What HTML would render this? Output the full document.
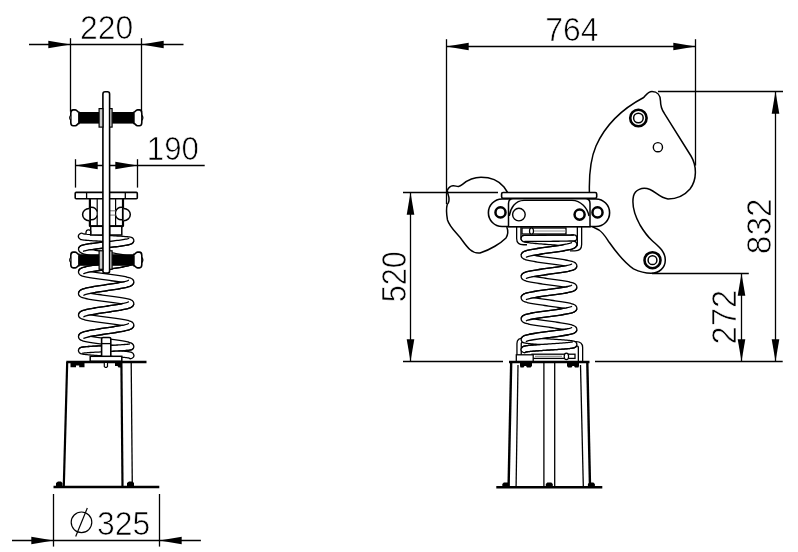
<!DOCTYPE html>
<html><head><meta charset="utf-8"><style>
html,body{margin:0;padding:0;background:#fff;width:798px;height:552px;overflow:hidden}
svg{display:block}
text{font-family:"Liberation Sans",sans-serif;fill:#000}
svg{will-change:transform}
</style></head><body>
<svg width="798" height="552" viewBox="0 0 798 552">
<rect width="798" height="552" fill="#fff"/>
<line x1="70.5" y1="38.2" x2="70.5" y2="111.6" stroke="#000" stroke-width="1.3"/>
<line x1="141.5" y1="38.2" x2="141.5" y2="111.6" stroke="#000" stroke-width="1.3"/>
<line x1="29" y1="44.5" x2="183.5" y2="44.5" stroke="#000" stroke-width="1.3"/>
<polygon points="70.5,44.5 48.3,48.3 48.3,40.7" fill="#000" stroke="none" stroke-width="1"/>
<polygon points="141.5,44.5 163.7,40.7 163.7,48.3" fill="#000" stroke="none" stroke-width="1"/>
<text x="0" y="0" font-size="33.6" text-anchor="middle" transform="translate(106.6 38.6) scale(0.95 1)" stroke="#fff" stroke-width="0.7">220</text>
<line x1="75.5" y1="159.2" x2="75.5" y2="187.6" stroke="#000" stroke-width="1.3"/>
<line x1="137.5" y1="159.2" x2="137.5" y2="187.6" stroke="#000" stroke-width="1.3"/>
<line x1="75.5" y1="165.5" x2="204.7" y2="165.5" stroke="#000" stroke-width="1.3"/>
<polygon points="75.5,165.5 97.7,161.7 97.7,169.3" fill="#000" stroke="none" stroke-width="1"/>
<polygon points="137.5,165.5 115.3,169.3 115.3,161.7" fill="#000" stroke="none" stroke-width="1"/>
<text x="0" y="0" font-size="33.6" text-anchor="middle" transform="translate(172.9 159.6) scale(0.93 1)" stroke="#fff" stroke-width="0.7">190</text>
<path d="M81.55,236.4 L81.63,236.5 L81.85,236.61 L82.23,236.71 L82.75,236.81 L83.42,236.91 L84.23,237.02 L85.18,237.12 L86.25,237.22 L87.44,237.32 L88.76,237.43 L90.17,237.53 L91.69,237.63 L93.3,237.73 L94.98,237.84 L96.74,237.94 L98.55,238.04 L100.41,238.14 L102.3,238.25 L104.22,238.35 L106.15,238.45 L108.08,238.55 L110,238.66 L111.89,238.76 L113.75,238.86 L115.56,238.96 L117.32,239.06 L119,239.17 L120.61,239.27 L122.13,239.37 L123.54,239.47 L124.86,239.58 L126.05,239.68 L127.12,239.78 L128.07,239.88 L128.88,239.99 L129.55,240.09 L130.07,240.19 L130.45,240.29 L130.67,240.4 L130.75,240.5 L130.67,240.72 L130.45,240.93 L130.07,241.15 L129.55,241.36 L128.88,241.57 L128.07,241.79 L127.12,242 L126.05,242.22 L124.86,242.44 L123.54,242.65 L122.13,242.87 L120.61,243.08 L119,243.29 L117.32,243.51 L115.56,243.72 L113.75,243.94 L111.89,244.16 L110,244.37 L108.08,244.59 L106.15,244.8 L104.22,245.01 L102.3,245.23 L100.41,245.44 L98.55,245.66 L96.74,245.88 L94.98,246.09 L93.3,246.31 L91.69,246.52 L90.17,246.73 L88.76,246.95 L87.44,247.16 L86.25,247.38 L85.18,247.59 L84.23,247.81 L83.42,248.03 L82.75,248.24 L82.23,248.45 L81.85,248.67 L81.63,248.88 L81.55,249.1 L81.63,249.4 L81.85,249.69 L82.23,249.99 L82.75,250.29 L83.42,250.59 L84.23,250.88 L85.18,251.18 L86.25,251.48 L87.44,251.78 L88.76,252.07 L90.17,252.37 L91.69,252.67 L93.3,252.97 L94.98,253.26 L96.74,253.56 L98.55,253.86 L100.41,254.16 L102.3,254.45 L104.22,254.75 L106.15,255.05 L108.08,255.35 L110,255.65 L111.89,255.94 L113.75,256.24 L115.56,256.54 L117.32,256.83 L119,257.13 L120.61,257.43 L122.13,257.73 L123.54,258.02 L124.86,258.32 L126.05,258.62 L127.12,258.92 L128.07,259.21 L128.88,259.51 L129.55,259.81 L130.07,260.11 L130.45,260.4 L130.67,260.7 L130.75,261 L130.67,261.27 L130.45,261.55 L130.07,261.82 L129.55,262.09 L128.88,262.36 L128.07,262.63 L127.12,262.91 L126.05,263.18 L124.86,263.45 L123.54,263.73 L122.13,264 L120.61,264.27 L119,264.54 L117.32,264.81 L115.56,265.09 L113.75,265.36 L111.89,265.63 L110,265.9 L108.08,266.18 L106.15,266.45 L104.22,266.72 L102.3,267 L100.41,267.27 L98.55,267.54 L96.74,267.81 L94.98,268.08 L93.3,268.36 L91.69,268.63 L90.17,268.9 L88.76,269.17 L87.44,269.45 L86.25,269.72 L85.18,269.99 L84.23,270.26 L83.42,270.54 L82.75,270.81 L82.23,271.08 L81.85,271.35 L81.63,271.63 L81.55,271.9 L81.63,272.15 L81.85,272.4 L82.23,272.66 L82.75,272.91 L83.42,273.16 L84.23,273.41 L85.18,273.67 L86.25,273.92 L87.44,274.17 L88.76,274.42 L90.17,274.68 L91.69,274.93 L93.3,275.18 L94.98,275.44 L96.74,275.69 L98.55,275.94 L100.41,276.19 L102.3,276.44 L104.22,276.7 L106.15,276.95 L108.08,277.2 L110,277.45 L111.89,277.71 L113.75,277.96 L115.56,278.21 L117.32,278.46 L119,278.72 L120.61,278.97 L122.13,279.22 L123.54,279.48 L124.86,279.73 L126.05,279.98 L127.12,280.23 L128.07,280.49 L128.88,280.74 L129.55,280.99 L130.07,281.24 L130.45,281.5 L130.67,281.75 L130.75,282 L130.67,282.29 L130.45,282.57 L130.07,282.86 L129.55,283.15 L128.88,283.44 L128.07,283.73 L127.12,284.01 L126.05,284.3 L124.86,284.59 L123.54,284.88 L122.13,285.16 L120.61,285.45 L119,285.74 L117.32,286.02 L115.56,286.31 L113.75,286.6 L111.89,286.89 L110,287.18 L108.08,287.46 L106.15,287.75 L104.22,288.04 L102.3,288.32 L100.41,288.61 L98.55,288.9 L96.74,289.19 L94.98,289.48 L93.3,289.76 L91.69,290.05 L90.17,290.34 L88.76,290.62 L87.44,290.91 L86.25,291.2 L85.18,291.49 L84.23,291.77 L83.42,292.06 L82.75,292.35 L82.23,292.64 L81.85,292.93 L81.63,293.21 L81.55,293.5 L81.63,293.75 L81.85,294 L82.23,294.26 L82.75,294.51 L83.42,294.76 L84.23,295.01 L85.18,295.27 L86.25,295.52 L87.44,295.77 L88.76,296.02 L90.17,296.28 L91.69,296.53 L93.3,296.78 L94.98,297.04 L96.74,297.29 L98.55,297.54 L100.41,297.79 L102.3,298.05 L104.22,298.3 L106.15,298.55 L108.08,298.8 L110,299.06 L111.89,299.31 L113.75,299.56 L115.56,299.81 L117.32,300.06 L119,300.32 L120.61,300.57 L122.13,300.82 L123.54,301.08 L124.86,301.33 L126.05,301.58 L127.12,301.83 L128.07,302.09 L128.88,302.34 L129.55,302.59 L130.07,302.84 L130.45,303.1 L130.67,303.35 L130.75,303.6 L130.67,303.89 L130.45,304.17 L130.07,304.46 L129.55,304.74 L128.88,305.03 L128.07,305.31 L127.12,305.6 L126.05,305.88 L124.86,306.17 L123.54,306.45 L122.13,306.74 L120.61,307.02 L119,307.31 L117.32,307.59 L115.56,307.88 L113.75,308.16 L111.89,308.44 L110,308.73 L108.08,309.01 L106.15,309.3 L104.22,309.59 L102.3,309.87 L100.41,310.16 L98.55,310.44 L96.74,310.73 L94.98,311.01 L93.3,311.3 L91.69,311.58 L90.17,311.87 L88.76,312.15 L87.44,312.44 L86.25,312.72 L85.18,313 L84.23,313.29 L83.42,313.57 L82.75,313.86 L82.23,314.14 L81.85,314.43 L81.63,314.71 L81.55,315 L81.63,315.25 L81.85,315.51 L82.23,315.76 L82.75,316.02 L83.42,316.27 L84.23,316.53 L85.18,316.79 L86.25,317.04 L87.44,317.3 L88.76,317.55 L90.17,317.81 L91.69,318.06 L93.3,318.31 L94.98,318.57 L96.74,318.82 L98.55,319.08 L100.41,319.33 L102.3,319.59 L104.22,319.84 L106.15,320.1 L108.08,320.36 L110,320.61 L111.89,320.87 L113.75,321.12 L115.56,321.38 L117.32,321.63 L119,321.88 L120.61,322.14 L122.13,322.39 L123.54,322.65 L124.86,322.9 L126.05,323.16 L127.12,323.41 L128.07,323.67 L128.88,323.93 L129.55,324.18 L130.07,324.44 L130.45,324.69 L130.67,324.94 L130.75,325.2 L130.67,325.49 L130.45,325.77 L130.07,326.06 L129.55,326.34 L128.88,326.62 L128.07,326.91 L127.12,327.19 L126.05,327.48 L124.86,327.76 L123.54,328.05 L122.13,328.33 L120.61,328.62 L119,328.9 L117.32,329.19 L115.56,329.48 L113.75,329.76 L111.89,330.05 L110,330.33 L108.08,330.62 L106.15,330.9 L104.22,331.19 L102.3,331.47 L100.41,331.75 L98.55,332.04 L96.74,332.32 L94.98,332.61 L93.3,332.9 L91.69,333.18 L90.17,333.47 L88.76,333.75 L87.44,334.04 L86.25,334.32 L85.18,334.61 L84.23,334.89 L83.42,335.18 L82.75,335.46 L82.23,335.75 L81.85,336.03 L81.63,336.31 L81.55,336.6 L81.63,336.85 L81.85,337.11 L82.23,337.36 L82.75,337.61 L83.42,337.86 L84.23,338.12 L85.18,338.37 L86.25,338.62 L87.44,338.87 L88.76,339.12 L90.17,339.38 L91.69,339.63 L93.3,339.88 L94.98,340.13 L96.74,340.39 L98.55,340.64 L100.41,340.89 L102.3,341.14 L104.22,341.4 L106.15,341.65 L108.08,341.9 L110,342.16 L111.89,342.41 L113.75,342.66 L115.56,342.91 L117.32,343.17 L119,343.42 L120.61,343.67 L122.13,343.92 L123.54,344.18 L124.86,344.43 L126.05,344.68 L127.12,344.93 L128.07,345.19 L128.88,345.44 L129.55,345.69 L130.07,345.94 L130.45,346.19 L130.67,346.45 L130.75,346.7 L130.67,346.8 L130.45,346.89 L130.07,346.99 L129.55,347.08 L128.88,347.18 L128.07,347.27 L127.12,347.37 L126.05,347.46 L124.86,347.56 L123.54,347.65 L122.13,347.75 L120.61,347.84 L119,347.94 L117.32,348.03 L115.56,348.12 L113.75,348.22 L111.89,348.31 L110,348.41 L108.08,348.5 L106.15,348.6 L104.22,348.69 L102.3,348.79 L100.41,348.88 L98.55,348.98 L96.74,349.07 L94.98,349.17 L93.3,349.26 L91.69,349.36 L90.17,349.45 L88.76,349.55 L87.44,349.64 L86.25,349.74 L85.18,349.83 L84.23,349.93 L83.42,350.02 L82.75,350.12 L82.23,350.21 L81.85,350.31 L81.63,350.4 L81.55,350.5 L81.63,350.62 L81.85,350.75 L82.23,350.88 L82.75,351 L83.42,351.12 L84.23,351.25 L85.18,351.38 L86.25,351.5 L87.44,351.62 L88.76,351.75 L90.17,351.88 L91.69,352 L93.3,352.12 L94.98,352.25 L96.74,352.38 L98.55,352.5 L100.41,352.62 L102.3,352.75 L104.22,352.88 L106.15,353 L108.08,353.12 L110,353.25 L111.89,353.38 L113.75,353.5 L115.56,353.62 L117.32,353.75 L119,353.88 L120.61,354 L122.13,354.12 L123.54,354.25 L124.86,354.38 L126.05,354.5 L127.12,354.62 L128.07,354.75 L128.88,354.88 L129.55,355 L130.07,355.12 L130.45,355.25 L130.67,355.38 L130.75,355.5" fill="none" stroke="#000" stroke-width="7.4" stroke-linecap="round" stroke-linejoin="round"/>
<path d="M81.55,236.4 L81.63,236.5 L81.85,236.61 L82.23,236.71 L82.75,236.81 L83.42,236.91 L84.23,237.02 L85.18,237.12 L86.25,237.22 L87.44,237.32 L88.76,237.43 L90.17,237.53 L91.69,237.63 L93.3,237.73 L94.98,237.84 L96.74,237.94 L98.55,238.04 L100.41,238.14 L102.3,238.25 L104.22,238.35 L106.15,238.45 L108.08,238.55 L110,238.66 L111.89,238.76 L113.75,238.86 L115.56,238.96 L117.32,239.06 L119,239.17 L120.61,239.27 L122.13,239.37 L123.54,239.47 L124.86,239.58 L126.05,239.68 L127.12,239.78 L128.07,239.88 L128.88,239.99 L129.55,240.09 L130.07,240.19 L130.45,240.29 L130.67,240.4 L130.75,240.5 L130.67,240.72 L130.45,240.93 L130.07,241.15 L129.55,241.36 L128.88,241.57 L128.07,241.79 L127.12,242 L126.05,242.22 L124.86,242.44 L123.54,242.65 L122.13,242.87 L120.61,243.08 L119,243.29 L117.32,243.51 L115.56,243.72 L113.75,243.94 L111.89,244.16 L110,244.37 L108.08,244.59 L106.15,244.8 L104.22,245.01 L102.3,245.23 L100.41,245.44 L98.55,245.66 L96.74,245.88 L94.98,246.09 L93.3,246.31 L91.69,246.52 L90.17,246.73 L88.76,246.95 L87.44,247.16 L86.25,247.38 L85.18,247.59 L84.23,247.81 L83.42,248.03 L82.75,248.24 L82.23,248.45 L81.85,248.67 L81.63,248.88 L81.55,249.1 L81.63,249.4 L81.85,249.69 L82.23,249.99 L82.75,250.29 L83.42,250.59 L84.23,250.88 L85.18,251.18 L86.25,251.48 L87.44,251.78 L88.76,252.07 L90.17,252.37 L91.69,252.67 L93.3,252.97 L94.98,253.26 L96.74,253.56 L98.55,253.86 L100.41,254.16 L102.3,254.45 L104.22,254.75 L106.15,255.05 L108.08,255.35 L110,255.65 L111.89,255.94 L113.75,256.24 L115.56,256.54 L117.32,256.83 L119,257.13 L120.61,257.43 L122.13,257.73 L123.54,258.02 L124.86,258.32 L126.05,258.62 L127.12,258.92 L128.07,259.21 L128.88,259.51 L129.55,259.81 L130.07,260.11 L130.45,260.4 L130.67,260.7 L130.75,261 L130.67,261.27 L130.45,261.55 L130.07,261.82 L129.55,262.09 L128.88,262.36 L128.07,262.63 L127.12,262.91 L126.05,263.18 L124.86,263.45 L123.54,263.73 L122.13,264 L120.61,264.27 L119,264.54 L117.32,264.81 L115.56,265.09 L113.75,265.36 L111.89,265.63 L110,265.9 L108.08,266.18 L106.15,266.45 L104.22,266.72 L102.3,267 L100.41,267.27 L98.55,267.54 L96.74,267.81 L94.98,268.08 L93.3,268.36 L91.69,268.63 L90.17,268.9 L88.76,269.17 L87.44,269.45 L86.25,269.72 L85.18,269.99 L84.23,270.26 L83.42,270.54 L82.75,270.81 L82.23,271.08 L81.85,271.35 L81.63,271.63 L81.55,271.9 L81.63,272.15 L81.85,272.4 L82.23,272.66 L82.75,272.91 L83.42,273.16 L84.23,273.41 L85.18,273.67 L86.25,273.92 L87.44,274.17 L88.76,274.42 L90.17,274.68 L91.69,274.93 L93.3,275.18 L94.98,275.44 L96.74,275.69 L98.55,275.94 L100.41,276.19 L102.3,276.44 L104.22,276.7 L106.15,276.95 L108.08,277.2 L110,277.45 L111.89,277.71 L113.75,277.96 L115.56,278.21 L117.32,278.46 L119,278.72 L120.61,278.97 L122.13,279.22 L123.54,279.48 L124.86,279.73 L126.05,279.98 L127.12,280.23 L128.07,280.49 L128.88,280.74 L129.55,280.99 L130.07,281.24 L130.45,281.5 L130.67,281.75 L130.75,282 L130.67,282.29 L130.45,282.57 L130.07,282.86 L129.55,283.15 L128.88,283.44 L128.07,283.73 L127.12,284.01 L126.05,284.3 L124.86,284.59 L123.54,284.88 L122.13,285.16 L120.61,285.45 L119,285.74 L117.32,286.02 L115.56,286.31 L113.75,286.6 L111.89,286.89 L110,287.18 L108.08,287.46 L106.15,287.75 L104.22,288.04 L102.3,288.32 L100.41,288.61 L98.55,288.9 L96.74,289.19 L94.98,289.48 L93.3,289.76 L91.69,290.05 L90.17,290.34 L88.76,290.62 L87.44,290.91 L86.25,291.2 L85.18,291.49 L84.23,291.77 L83.42,292.06 L82.75,292.35 L82.23,292.64 L81.85,292.93 L81.63,293.21 L81.55,293.5 L81.63,293.75 L81.85,294 L82.23,294.26 L82.75,294.51 L83.42,294.76 L84.23,295.01 L85.18,295.27 L86.25,295.52 L87.44,295.77 L88.76,296.02 L90.17,296.28 L91.69,296.53 L93.3,296.78 L94.98,297.04 L96.74,297.29 L98.55,297.54 L100.41,297.79 L102.3,298.05 L104.22,298.3 L106.15,298.55 L108.08,298.8 L110,299.06 L111.89,299.31 L113.75,299.56 L115.56,299.81 L117.32,300.06 L119,300.32 L120.61,300.57 L122.13,300.82 L123.54,301.08 L124.86,301.33 L126.05,301.58 L127.12,301.83 L128.07,302.09 L128.88,302.34 L129.55,302.59 L130.07,302.84 L130.45,303.1 L130.67,303.35 L130.75,303.6 L130.67,303.89 L130.45,304.17 L130.07,304.46 L129.55,304.74 L128.88,305.03 L128.07,305.31 L127.12,305.6 L126.05,305.88 L124.86,306.17 L123.54,306.45 L122.13,306.74 L120.61,307.02 L119,307.31 L117.32,307.59 L115.56,307.88 L113.75,308.16 L111.89,308.44 L110,308.73 L108.08,309.01 L106.15,309.3 L104.22,309.59 L102.3,309.87 L100.41,310.16 L98.55,310.44 L96.74,310.73 L94.98,311.01 L93.3,311.3 L91.69,311.58 L90.17,311.87 L88.76,312.15 L87.44,312.44 L86.25,312.72 L85.18,313 L84.23,313.29 L83.42,313.57 L82.75,313.86 L82.23,314.14 L81.85,314.43 L81.63,314.71 L81.55,315 L81.63,315.25 L81.85,315.51 L82.23,315.76 L82.75,316.02 L83.42,316.27 L84.23,316.53 L85.18,316.79 L86.25,317.04 L87.44,317.3 L88.76,317.55 L90.17,317.81 L91.69,318.06 L93.3,318.31 L94.98,318.57 L96.74,318.82 L98.55,319.08 L100.41,319.33 L102.3,319.59 L104.22,319.84 L106.15,320.1 L108.08,320.36 L110,320.61 L111.89,320.87 L113.75,321.12 L115.56,321.38 L117.32,321.63 L119,321.88 L120.61,322.14 L122.13,322.39 L123.54,322.65 L124.86,322.9 L126.05,323.16 L127.12,323.41 L128.07,323.67 L128.88,323.93 L129.55,324.18 L130.07,324.44 L130.45,324.69 L130.67,324.94 L130.75,325.2 L130.67,325.49 L130.45,325.77 L130.07,326.06 L129.55,326.34 L128.88,326.62 L128.07,326.91 L127.12,327.19 L126.05,327.48 L124.86,327.76 L123.54,328.05 L122.13,328.33 L120.61,328.62 L119,328.9 L117.32,329.19 L115.56,329.48 L113.75,329.76 L111.89,330.05 L110,330.33 L108.08,330.62 L106.15,330.9 L104.22,331.19 L102.3,331.47 L100.41,331.75 L98.55,332.04 L96.74,332.32 L94.98,332.61 L93.3,332.9 L91.69,333.18 L90.17,333.47 L88.76,333.75 L87.44,334.04 L86.25,334.32 L85.18,334.61 L84.23,334.89 L83.42,335.18 L82.75,335.46 L82.23,335.75 L81.85,336.03 L81.63,336.31 L81.55,336.6 L81.63,336.85 L81.85,337.11 L82.23,337.36 L82.75,337.61 L83.42,337.86 L84.23,338.12 L85.18,338.37 L86.25,338.62 L87.44,338.87 L88.76,339.12 L90.17,339.38 L91.69,339.63 L93.3,339.88 L94.98,340.13 L96.74,340.39 L98.55,340.64 L100.41,340.89 L102.3,341.14 L104.22,341.4 L106.15,341.65 L108.08,341.9 L110,342.16 L111.89,342.41 L113.75,342.66 L115.56,342.91 L117.32,343.17 L119,343.42 L120.61,343.67 L122.13,343.92 L123.54,344.18 L124.86,344.43 L126.05,344.68 L127.12,344.93 L128.07,345.19 L128.88,345.44 L129.55,345.69 L130.07,345.94 L130.45,346.19 L130.67,346.45 L130.75,346.7 L130.67,346.8 L130.45,346.89 L130.07,346.99 L129.55,347.08 L128.88,347.18 L128.07,347.27 L127.12,347.37 L126.05,347.46 L124.86,347.56 L123.54,347.65 L122.13,347.75 L120.61,347.84 L119,347.94 L117.32,348.03 L115.56,348.12 L113.75,348.22 L111.89,348.31 L110,348.41 L108.08,348.5 L106.15,348.6 L104.22,348.69 L102.3,348.79 L100.41,348.88 L98.55,348.98 L96.74,349.07 L94.98,349.17 L93.3,349.26 L91.69,349.36 L90.17,349.45 L88.76,349.55 L87.44,349.64 L86.25,349.74 L85.18,349.83 L84.23,349.93 L83.42,350.02 L82.75,350.12 L82.23,350.21 L81.85,350.31 L81.63,350.4 L81.55,350.5 L81.63,350.62 L81.85,350.75 L82.23,350.88 L82.75,351 L83.42,351.12 L84.23,351.25 L85.18,351.38 L86.25,351.5 L87.44,351.62 L88.76,351.75 L90.17,351.88 L91.69,352 L93.3,352.12 L94.98,352.25 L96.74,352.38 L98.55,352.5 L100.41,352.62 L102.3,352.75 L104.22,352.88 L106.15,353 L108.08,353.12 L110,353.25 L111.89,353.38 L113.75,353.5 L115.56,353.62 L117.32,353.75 L119,353.88 L120.61,354 L122.13,354.12 L123.54,354.25 L124.86,354.38 L126.05,354.5 L127.12,354.62 L128.07,354.75 L128.88,354.88 L129.55,355 L130.07,355.12 L130.45,355.25 L130.67,355.38 L130.75,355.5" fill="none" stroke="#fff" stroke-width="4.800000000000001" stroke-linecap="round" stroke-linejoin="round"/>
<path d="M128.76,238.39 L128.51,238.49 L128.03,238.65 L127.34,238.83 L126.49,239.02 L125.48,239.22 L124.34,239.43 L123.07,239.64 L121.68,239.85 L120.19,240.06 L118.61,240.27 L116.94,240.48 L115.2,240.7 L113.4,240.91 L111.55,241.12 L109.66,241.34 L107.74,241.55 L105.81,241.77 L103.88,241.98 L101.96,242.2 L100.06,242.41 L98.19,242.63 L96.37,242.85 L94.6,243.06 L92.9,243.28 L91.27,243.5 L89.73,243.72 L88.28,243.94 L86.93,244.16 L85.68,244.38 L84.54,244.61 L83.5,244.85 L82.57,245.1 L81.72,245.37 L80.92,245.7 L80.08,246.19 L79.13,247.13 L78.67,248.09" fill="none" stroke="#000" stroke-width="1.3" stroke-linecap="round"/>
<path d="M133.63,241.51 L133.17,242.47 L132.22,243.41 L131.38,243.9 L130.58,244.23 L129.73,244.5 L128.8,244.75 L127.76,244.99 L126.62,245.22 L125.37,245.44 L124.02,245.66 L122.57,245.88 L121.03,246.1 L119.4,246.32 L117.7,246.54 L115.93,246.75 L114.11,246.97 L112.24,247.19 L110.34,247.4 L108.42,247.62 L106.49,247.83 L104.56,248.05 L102.64,248.26 L100.75,248.48 L98.9,248.69 L97.1,248.9 L95.36,249.12 L93.69,249.33 L92.11,249.54 L90.62,249.75 L89.23,249.96 L87.96,250.17 L86.82,250.38 L85.81,250.58 L84.96,250.77 L84.27,250.95 L83.79,251.11 L83.54,251.21" fill="none" stroke="#000" stroke-width="1.3" stroke-linecap="round"/>
<path d="M128.49,259.21 L128.28,259.32 L127.82,259.5 L127.16,259.72 L126.33,259.96 L125.34,260.21 L124.21,260.47 L122.95,260.73 L121.57,261 L120.09,261.27 L118.51,261.53 L116.84,261.8 L115.1,262.07 L113.3,262.34 L111.45,262.61 L109.57,262.89 L107.65,263.16 L105.72,263.43 L103.79,263.7 L101.87,263.98 L99.97,264.25 L98.1,264.52 L96.28,264.8 L94.5,265.07 L92.8,265.35 L91.17,265.63 L89.62,265.9 L88.16,266.18 L86.8,266.47 L85.54,266.75 L84.38,267.05 L83.33,267.35 L82.37,267.68 L81.49,268.04 L80.65,268.47 L79.81,269.09 L78.96,270.15 L78.61,271.08" fill="none" stroke="#000" stroke-width="1.3" stroke-linecap="round"/>
<path d="M133.69,261.82 L133.34,262.75 L132.49,263.81 L131.65,264.43 L130.81,264.86 L129.93,265.22 L128.97,265.55 L127.92,265.85 L126.76,266.15 L125.5,266.43 L124.14,266.72 L122.68,267 L121.13,267.27 L119.5,267.55 L117.8,267.83 L116.02,268.1 L114.2,268.38 L112.33,268.65 L110.43,268.92 L108.51,269.2 L106.58,269.47 L104.65,269.74 L102.73,270.01 L100.85,270.29 L99,270.56 L97.2,270.83 L95.46,271.1 L93.79,271.37 L92.21,271.63 L90.73,271.9 L89.35,272.17 L88.09,272.43 L86.96,272.69 L85.97,272.94 L85.14,273.18 L84.48,273.4 L84.02,273.58 L83.81,273.69" fill="none" stroke="#000" stroke-width="1.3" stroke-linecap="round"/>
<path d="M128.43,280.29 L128.22,280.4 L127.77,280.6 L127.12,280.83 L126.29,281.08 L125.3,281.34 L124.17,281.61 L122.92,281.89 L121.54,282.17 L120.06,282.45 L118.48,282.73 L116.82,283.02 L115.08,283.3 L113.28,283.59 L111.43,283.87 L109.54,284.16 L107.63,284.45 L105.7,284.73 L103.77,285.02 L101.85,285.31 L99.95,285.6 L98.08,285.89 L96.25,286.18 L94.48,286.47 L92.77,286.76 L91.14,287.05 L89.59,287.34 L88.13,287.64 L86.76,287.94 L85.5,288.24 L84.34,288.55 L83.28,288.88 L82.32,289.22 L81.43,289.6 L80.59,290.07 L79.75,290.72 L78.93,291.79 L78.6,292.72" fill="none" stroke="#000" stroke-width="1.3" stroke-linecap="round"/>
<path d="M133.7,282.78 L133.37,283.71 L132.55,284.78 L131.71,285.43 L130.87,285.9 L129.98,286.28 L129.02,286.62 L127.96,286.95 L126.8,287.26 L125.54,287.56 L124.17,287.86 L122.71,288.16 L121.16,288.45 L119.53,288.74 L117.82,289.03 L116.05,289.32 L114.22,289.61 L112.35,289.9 L110.45,290.19 L108.53,290.48 L106.6,290.77 L104.67,291.05 L102.76,291.34 L100.87,291.63 L99.02,291.91 L97.22,292.2 L95.48,292.48 L93.82,292.77 L92.24,293.05 L90.76,293.33 L89.38,293.61 L88.13,293.89 L87,294.16 L86.01,294.42 L85.18,294.67 L84.53,294.9 L84.08,295.1 L83.87,295.21" fill="none" stroke="#000" stroke-width="1.3" stroke-linecap="round"/>
<path d="M128.44,301.88 L128.23,301.99 L127.78,302.18 L127.13,302.41 L126.3,302.66 L125.31,302.92 L124.18,303.19 L122.92,303.46 L121.55,303.74 L120.06,304.02 L118.48,304.3 L116.82,304.58 L115.08,304.86 L113.28,305.15 L111.43,305.43 L109.55,305.71 L107.63,306 L105.7,306.28 L103.77,306.57 L101.85,306.85 L99.95,307.14 L98.08,307.43 L96.25,307.71 L94.48,308 L92.78,308.29 L91.14,308.58 L89.59,308.87 L88.13,309.16 L86.77,309.46 L85.51,309.76 L84.35,310.07 L83.29,310.39 L82.32,310.73 L81.44,311.11 L80.6,311.57 L79.76,312.21 L78.93,313.28 L78.6,314.22" fill="none" stroke="#000" stroke-width="1.3" stroke-linecap="round"/>
<path d="M133.7,304.38 L133.37,305.32 L132.54,306.39 L131.7,307.03 L130.86,307.49 L129.98,307.87 L129.01,308.21 L127.95,308.53 L126.79,308.84 L125.53,309.14 L124.17,309.44 L122.71,309.73 L121.16,310.02 L119.52,310.31 L117.82,310.6 L116.05,310.89 L114.22,311.17 L112.35,311.46 L110.45,311.75 L108.53,312.03 L106.6,312.32 L104.67,312.6 L102.75,312.89 L100.87,313.17 L99.02,313.45 L97.22,313.74 L95.48,314.02 L93.82,314.3 L92.24,314.58 L90.75,314.86 L89.38,315.14 L88.12,315.41 L86.99,315.68 L86,315.94 L85.17,316.19 L84.52,316.42 L84.07,316.61 L83.86,316.72" fill="none" stroke="#000" stroke-width="1.3" stroke-linecap="round"/>
<path d="M128.44,323.48 L128.23,323.59 L127.78,323.78 L127.13,324.01 L126.3,324.26 L125.31,324.52 L124.18,324.79 L122.92,325.06 L121.55,325.34 L120.06,325.62 L118.48,325.9 L116.82,326.18 L115.08,326.46 L113.28,326.75 L111.43,327.03 L109.55,327.31 L107.63,327.6 L105.7,327.88 L103.77,328.17 L101.85,328.45 L99.95,328.74 L98.08,329.03 L96.25,329.31 L94.48,329.6 L92.78,329.89 L91.14,330.18 L89.59,330.47 L88.13,330.76 L86.77,331.06 L85.51,331.36 L84.35,331.67 L83.29,331.99 L82.32,332.33 L81.44,332.71 L80.6,333.17 L79.76,333.81 L78.93,334.88 L78.6,335.82" fill="none" stroke="#000" stroke-width="1.3" stroke-linecap="round"/>
<path d="M133.7,325.98 L133.37,326.92 L132.54,327.99 L131.7,328.63 L130.86,329.09 L129.98,329.47 L129.01,329.81 L127.95,330.13 L126.79,330.44 L125.53,330.74 L124.17,331.04 L122.71,331.33 L121.16,331.62 L119.52,331.91 L117.82,332.2 L116.05,332.49 L114.22,332.77 L112.35,333.06 L110.45,333.35 L108.53,333.63 L106.6,333.92 L104.67,334.2 L102.75,334.49 L100.87,334.77 L99.02,335.05 L97.22,335.34 L95.48,335.62 L93.82,335.9 L92.24,336.18 L90.75,336.46 L89.38,336.74 L88.12,337.01 L86.99,337.28 L86,337.54 L85.17,337.79 L84.52,338.02 L84.07,338.21 L83.86,338.32" fill="none" stroke="#000" stroke-width="1.3" stroke-linecap="round"/>
<path d="M129.53,343.98 L129.44,344 L129.07,344.07 L128.49,344.15 L127.74,344.24 L126.84,344.33 L125.8,344.42 L124.63,344.51 L123.33,344.61 L121.93,344.7 L120.42,344.8 L118.83,344.89 L117.15,344.98 L115.4,345.08 L113.59,345.17 L111.74,345.27 L109.85,345.36 L107.93,345.46 L106,345.55 L104.07,345.65 L102.15,345.74 L100.25,345.84 L98.39,345.93 L96.57,346.03 L94.81,346.12 L93.12,346.22 L91.51,346.32 L89.98,346.41 L88.54,346.51 L87.21,346.6 L85.99,346.7 L84.89,346.8 L83.9,346.9 L83.03,347 L82.27,347.11 L81.6,347.23 L80.94,347.4 L80,347.82 L79.17,348.6" fill="none" stroke="#000" stroke-width="1.3" stroke-linecap="round"/>
<path d="M133.13,348.6 L132.3,349.38 L131.36,349.8 L130.7,349.97 L130.03,350.09 L129.27,350.2 L128.4,350.3 L127.41,350.4 L126.31,350.5 L125.09,350.6 L123.76,350.69 L122.32,350.79 L120.79,350.88 L119.18,350.98 L117.49,351.08 L115.73,351.17 L113.91,351.27 L112.05,351.36 L110.15,351.46 L108.23,351.55 L106.3,351.65 L104.37,351.74 L102.45,351.84 L100.56,351.93 L98.71,352.03 L96.9,352.12 L95.15,352.22 L93.47,352.31 L91.88,352.4 L90.37,352.5 L88.97,352.59 L87.67,352.69 L86.5,352.78 L85.46,352.87 L84.56,352.96 L83.81,353.05 L83.23,353.13 L82.86,353.2 L82.77,353.22" fill="none" stroke="#000" stroke-width="1.3" stroke-linecap="round"/>
<rect x="75.2" y="192.4" width="62.1" height="6.4" rx="1" fill="#fff" stroke="#000" stroke-width="1.6"/>
<line x1="86.6" y1="192.4" x2="86.6" y2="198.8" stroke="#000" stroke-width="1.3"/>
<line x1="125.3" y1="192.4" x2="125.3" y2="198.8" stroke="#000" stroke-width="1.3"/>
<rect x="89.9" y="198.8" width="33.1" height="27.5" rx="0" fill="#fff" stroke="#000" stroke-width="1.4"/>
<line x1="89.9" y1="198.8" x2="89.9" y2="226.3" stroke="#000" stroke-width="2.2"/>
<line x1="123" y1="198.8" x2="123" y2="226.3" stroke="#000" stroke-width="2.2"/>
<line x1="89.9" y1="226.3" x2="123" y2="226.3" stroke="#000" stroke-width="2.0"/>
<line x1="97.2" y1="198.8" x2="97.2" y2="226.3" stroke="#000" stroke-width="1.2"/>
<line x1="115.6" y1="198.8" x2="115.6" y2="226.3" stroke="#000" stroke-width="1.2"/>
<path d="M90.7,207.3 A6.3,6.3 0 0,1 97.2,211.5" fill="none" stroke="#000" stroke-width="1.3" />
<path d="M97.2,215.5 A6.3,6.3 0 0,1 90.7,219.7" fill="none" stroke="#000" stroke-width="1.3" />
<path d="M122.2,207.3 A6.3,6.3 0 0,0 115.6,211.5" fill="none" stroke="#000" stroke-width="1.3" />
<path d="M115.6,215.5 A6.3,6.3 0 0,0 122.2,219.7" fill="none" stroke="#000" stroke-width="1.3" />
<line x1="109.6" y1="210.8" x2="115.6" y2="210.8" stroke="#777" stroke-width="1.0"/>
<line x1="109.6" y1="215.1" x2="115.6" y2="215.1" stroke="#777" stroke-width="1.0"/>
<path d="M89.2,208.4 A6.6,6.15 0 0,0 89.2,220.7" fill="#fff" stroke="#000" stroke-width="1.5" />
<path d="M123.7,208.4 A6.6,6.15 0 0,1 123.7,220.7" fill="#fff" stroke="#000" stroke-width="1.5" />
<rect x="90.7" y="226.3" width="12" height="8.7" rx="0" fill="#fff" stroke="#000" stroke-width="1.5"/>
<rect x="109.6" y="226.3" width="12.2" height="8.7" rx="0" fill="#fff" stroke="#000" stroke-width="1.5"/>
<path d="M86,234 L86,232 A2.6,2.6 0 0,1 90.7,231 L90.7,234" fill="#fff" stroke="#000" stroke-width="1.3" />
<rect x="102.9" y="91.8" width="6.7" height="181.3" rx="2.2" fill="#fff" stroke="#000" stroke-width="1.6"/>
<rect x="79" y="112" width="20.1" height="11.6" fill="#000"/>
<rect x="112.1" y="112" width="22.1" height="11.6" fill="#000"/>
<rect x="99.1" y="108.6" width="3.8" height="18.5" rx="0" fill="#ccc" stroke="#000" stroke-width="1.2"/>
<rect x="109.6" y="108.6" width="2.5" height="18.5" rx="0" fill="#ccc" stroke="#000" stroke-width="1.2"/>
<path d="M78.9,112.2 C77.7,112.2 77.1,109.9 75.3,109.9 L73.2,109.9 Q70.8,109.9 70.8,113.2 L70.8,122.4 Q70.8,125.7 73.2,125.7 L75.3,125.7 C77.1,125.7 77.7,123.4 78.9,123.4 Z" fill="#fff" stroke="#000" stroke-width="1.6" />
<path d="M70.8,115.2 Q68.6,117.8 70.8,120.4" fill="#888" stroke="#000" stroke-width="1.2" />
<path d="M133.9,112.2 C135.1,112.2 135.7,109.9 137.5,109.9 L139.4,109.9 Q141.8,109.9 141.8,113.2 L141.8,122.4 Q141.8,125.7 139.4,125.7 L137.5,125.7 C135.7,125.7 135.1,123.4 133.9,123.4 Z" fill="#fff" stroke="#000" stroke-width="1.6" />
<path d="M141.8,115.2 Q144,117.8 141.8,120.4" fill="#888" stroke="#000" stroke-width="1.2" />
<rect x="79" y="254.2" width="20.1" height="11.6" fill="#000"/>
<rect x="112.1" y="254.2" width="22.1" height="11.6" fill="#000"/>
<rect x="99.1" y="250.8" width="3.8" height="18.5" rx="0" fill="#ccc" stroke="#000" stroke-width="1.2"/>
<rect x="109.6" y="250.8" width="2.5" height="18.5" rx="0" fill="#ccc" stroke="#000" stroke-width="1.2"/>
<path d="M78.9,254.4 C77.7,254.4 77.1,252.1 75.3,252.1 L73.2,252.1 Q70.8,252.1 70.8,255.4 L70.8,264.6 Q70.8,267.9 73.2,267.9 L75.3,267.9 C77.1,267.9 77.7,265.6 78.9,265.6 Z" fill="#fff" stroke="#000" stroke-width="1.6" />
<path d="M70.8,257.4 Q68.6,260 70.8,262.6" fill="#888" stroke="#000" stroke-width="1.2" />
<path d="M133.9,254.4 C135.1,254.4 135.7,252.1 137.5,252.1 L139.4,252.1 Q141.8,252.1 141.8,255.4 L141.8,264.6 Q141.8,267.9 139.4,267.9 L137.5,267.9 C135.7,267.9 135.1,265.6 133.9,265.6 Z" fill="#fff" stroke="#000" stroke-width="1.6" />
<path d="M141.8,257.4 Q144,260 141.8,262.6" fill="#888" stroke="#000" stroke-width="1.2" />
<rect x="101.6" y="337.5" width="9.2" height="24" rx="1.5" fill="#fff" stroke="#000" stroke-width="1.6"/>
<line x1="101.6" y1="343.6" x2="110.8" y2="343.6" stroke="#000" stroke-width="1.3"/>
<rect x="90.2" y="356.3" width="31.6" height="5" rx="0" fill="#fff" stroke="#000" stroke-width="1.5"/>
<line x1="66.3" y1="362" x2="146.5" y2="362" stroke="#000" stroke-width="2.4"/>
<path d="M70.5,362 L84.5,362 L84.5,367.3 L79.2,367.3 L79.2,365.5 L76,365.5 L76,367.3 L70.5,367.3 Z" fill="#000"/>
<path d="M115,362 L121.5,362 L121.5,367.5 L118.5,367.5 L117.5,366 L115,366 Z" fill="#000"/>
<path d="M104.3,362.5 L107.5,362.5 L107.5,366.5 L106.5,367.5 L105.3,367.5 L104.3,366.5 Z" fill="#fff" stroke="#000" stroke-width="1.2"/>
<line x1="67.2" y1="362" x2="63.8" y2="486" stroke="#000" stroke-width="2.2"/>
<line x1="121.4" y1="363" x2="122.5" y2="486" stroke="#000" stroke-width="2.2"/>
<line x1="131.2" y1="363" x2="132.3" y2="486" stroke="#000" stroke-width="1.3"/>
<line x1="53.5" y1="487" x2="159.3" y2="487" stroke="#000" stroke-width="2.6"/>
<path d="M56,486 L56,483 L58,481.5 L61,481.5 L62.5,483 L62.5,486 Z" fill="#000"/>
<path d="M127,486 L127,483 L129,481.5 L132.5,481.5 L134,483 L134,486 Z" fill="#000"/>
<line x1="53.5" y1="494" x2="53.5" y2="546.6" stroke="#000" stroke-width="1.3"/>
<line x1="159.5" y1="494" x2="159.5" y2="546.6" stroke="#000" stroke-width="1.3"/>
<line x1="12" y1="540.5" x2="200.9" y2="540.5" stroke="#000" stroke-width="1.3"/>
<polygon points="53.5,540.5 31.3,544.3 31.3,536.7" fill="#000" stroke="none" stroke-width="1"/>
<polygon points="159.5,540.5 181.7,536.7 181.7,544.3" fill="#000" stroke="none" stroke-width="1"/>
<circle cx="81.5" cy="522.3" r="10.3" fill="none" stroke="#000" stroke-width="1.2"/>
<line x1="87.3" y1="508.1" x2="75.7" y2="536.6" stroke="#000" stroke-width="1.2"/>
<text x="0" y="0" font-size="33.6" text-anchor="middle" transform="translate(123.7 534.7) scale(0.95 1)" stroke="#fff" stroke-width="0.7">325</text>
<line x1="446.5" y1="39.2" x2="446.5" y2="204" stroke="#000" stroke-width="1.3"/>
<line x1="695.5" y1="39.2" x2="695.5" y2="165.6" stroke="#000" stroke-width="1.3"/>
<line x1="446.5" y1="46.5" x2="695.5" y2="46.5" stroke="#000" stroke-width="1.3"/>
<polygon points="446.5,46.5 468.7,42.7 468.7,50.3" fill="#000" stroke="none" stroke-width="1"/>
<polygon points="695.5,46.5 673.3,50.3 673.3,42.7" fill="#000" stroke="none" stroke-width="1"/>
<text x="0" y="0" font-size="33.6" text-anchor="middle" transform="translate(571.8 40.6) scale(0.95 1)" stroke="#fff" stroke-width="0.7">764</text>
<line x1="403" y1="192.5" x2="498" y2="192.5" stroke="#000" stroke-width="1.3"/>
<line x1="403" y1="361.5" x2="503" y2="361.5" stroke="#000" stroke-width="1.3"/>
<line x1="410.5" y1="192.5" x2="410.5" y2="361.5" stroke="#000" stroke-width="1.3"/>
<polygon points="410.5,192.5 414.3,214.7 406.7,214.7" fill="#000" stroke="none" stroke-width="1"/>
<polygon points="410.5,361.5 406.7,339.3 414.3,339.3" fill="#000" stroke="none" stroke-width="1"/>
<text x="0" y="0" font-size="34.8" text-anchor="middle" transform="translate(405.5 276.7) rotate(-90) scale(0.88 1)" stroke="#fff" stroke-width="0.7">520</text>
<line x1="658" y1="91.5" x2="783" y2="91.5" stroke="#000" stroke-width="1.3"/>
<line x1="652" y1="273.5" x2="748.8" y2="273.5" stroke="#000" stroke-width="1.3"/>
<line x1="595" y1="361.5" x2="782.7" y2="361.5" stroke="#000" stroke-width="1.3"/>
<line x1="775.5" y1="91.5" x2="775.5" y2="361.5" stroke="#000" stroke-width="1.3"/>
<polygon points="775.5,91.5 779.3,113.7 771.7,113.7" fill="#000" stroke="none" stroke-width="1"/>
<polygon points="775.5,361.5 771.7,339.3 779.3,339.3" fill="#000" stroke="none" stroke-width="1"/>
<line x1="741.5" y1="273.5" x2="741.5" y2="361.5" stroke="#000" stroke-width="1.3"/>
<polygon points="741.5,273.5 745.3,295.7 737.7,295.7" fill="#000" stroke="none" stroke-width="1"/>
<polygon points="741.5,361.5 737.7,339.3 745.3,339.3" fill="#000" stroke="none" stroke-width="1"/>
<text x="0" y="0" font-size="34.8" text-anchor="middle" transform="translate(771.1 226.3) rotate(-90) scale(0.96 1)" stroke="#fff" stroke-width="0.7">832</text>
<text x="0" y="0" font-size="34.8" text-anchor="middle" transform="translate(735.8 317.2) rotate(-90) scale(0.94 1)" stroke="#fff" stroke-width="0.7">272</text>
<path d="M447.3,190.4 C448.5,187.5 450.5,186 453,185.8 C455.5,185.6 456.5,186.6 458.5,186.4 C460,186.2 461,185.5 462.5,184.3 C468,179.8 474,177.3 481,177.3 C490,177.3 499,181 504,187 L507.6,192.5 M506.8,227 C508,230 508.3,234 506,238 C501,243 490,250 480,253 C472,254 467,247 462,240 C458,234 450,228 447.5,220 C446,212 446.3,208 447.2,204.5 C449,203 449.6,199 448.6,196 C448,194 447.4,192.5 447.3,190.4" fill="none" stroke="#000" stroke-width="1.5" />
<path d="M518.8,226 L518.8,238.5 Q518.8,242.6 523.5,242.6 L527,242.6" fill="none" stroke="#000" stroke-width="5.6" stroke-linecap="butt" stroke-linejoin="round"/>
<path d="M518.8,226 L518.8,238.5 Q518.8,242.6 523.5,242.6 L527,242.6" fill="none" stroke="#fff" stroke-width="2.9999999999999996" stroke-linecap="butt" stroke-linejoin="round"/>
<path d="M579.5,226 L579.5,244.5 Q579.5,248.7 575,248.7 L570,248.7" fill="none" stroke="#000" stroke-width="5.6" stroke-linecap="butt" stroke-linejoin="round"/>
<path d="M579.5,226 L579.5,244.5 Q579.5,248.7 575,248.7 L570,248.7" fill="none" stroke="#fff" stroke-width="2.9999999999999996" stroke-linecap="butt" stroke-linejoin="round"/>
<path d="M519.1,362 L519.1,343.5 Q519.1,340 524,340 L527,340" fill="none" stroke="#000" stroke-width="5.6" stroke-linecap="butt" stroke-linejoin="round"/>
<path d="M519.1,362 L519.1,343.5 Q519.1,340 524,340 L527,340" fill="none" stroke="#fff" stroke-width="2.9999999999999996" stroke-linecap="butt" stroke-linejoin="round"/>
<path d="M580.5,362 L580.5,347.5 Q580.5,343.8 576,343.8 L571,343.8" fill="none" stroke="#000" stroke-width="5.6" stroke-linecap="butt" stroke-linejoin="round"/>
<path d="M580.5,362 L580.5,347.5 Q580.5,343.8 576,343.8 L571,343.8" fill="none" stroke="#fff" stroke-width="2.9999999999999996" stroke-linecap="butt" stroke-linejoin="round"/>
<path d="M573.8,238 L573.72,238.01 L573.49,238.03 L573.11,238.04 L572.59,238.05 L571.91,238.06 L571.1,238.07 L570.15,238.09 L569.06,238.1 L567.86,238.11 L566.54,238.12 L565.11,238.14 L563.58,238.15 L561.96,238.16 L560.26,238.18 L558.49,238.19 L556.66,238.2 L554.79,238.21 L552.88,238.22 L550.95,238.24 L549,238.25 L547.05,238.26 L545.12,238.28 L543.21,238.29 L541.34,238.3 L539.51,238.31 L537.74,238.32 L536.04,238.34 L534.42,238.35 L532.89,238.36 L531.46,238.38 L530.14,238.39 L528.94,238.4 L527.85,238.41 L526.9,238.43 L526.09,238.44 L525.41,238.45 L524.89,238.46 L524.51,238.47 L524.28,238.49 L524.2,238.5 L524.28,238.65 L524.51,238.8 L524.89,238.95 L525.41,239.1 L526.09,239.25 L526.9,239.4 L527.85,239.55 L528.94,239.7 L530.14,239.85 L531.46,240 L532.89,240.15 L534.42,240.3 L536.04,240.45 L537.74,240.6 L539.51,240.75 L541.34,240.9 L543.21,241.05 L545.12,241.2 L547.05,241.35 L549,241.5 L550.95,241.65 L552.88,241.8 L554.79,241.95 L556.66,242.1 L558.49,242.25 L560.26,242.4 L561.96,242.55 L563.58,242.7 L565.11,242.85 L566.54,243 L567.86,243.15 L569.06,243.3 L570.15,243.45 L571.1,243.6 L571.91,243.75 L572.59,243.9 L573.11,244.05 L573.49,244.2 L573.72,244.35 L573.8,244.5 L573.72,244.77 L573.49,245.04 L573.11,245.31 L572.59,245.58 L571.91,245.85 L571.1,246.12 L570.15,246.39 L569.06,246.66 L567.86,246.93 L566.54,247.2 L565.11,247.47 L563.58,247.74 L561.96,248.01 L560.26,248.28 L558.49,248.55 L556.66,248.82 L554.79,249.09 L552.88,249.36 L550.95,249.63 L549,249.9 L547.05,250.17 L545.12,250.44 L543.21,250.71 L541.34,250.98 L539.51,251.25 L537.74,251.52 L536.04,251.79 L534.42,252.06 L532.89,252.33 L531.46,252.6 L530.14,252.87 L528.94,253.14 L527.85,253.41 L526.9,253.68 L526.09,253.95 L525.41,254.22 L524.89,254.49 L524.51,254.76 L524.28,255.03 L524.2,255.3 L524.28,255.56 L524.51,255.83 L524.89,256.1 L525.41,256.36 L526.09,256.62 L526.9,256.89 L527.85,257.16 L528.94,257.42 L530.14,257.69 L531.46,257.95 L532.89,258.21 L534.42,258.48 L536.04,258.75 L537.74,259.01 L539.51,259.27 L541.34,259.54 L543.21,259.81 L545.12,260.07 L547.05,260.33 L549,260.6 L550.95,260.87 L552.88,261.13 L554.79,261.39 L556.66,261.66 L558.49,261.93 L560.26,262.19 L561.96,262.45 L563.58,262.72 L565.11,262.99 L566.54,263.25 L567.86,263.51 L569.06,263.78 L570.15,264.04 L571.1,264.31 L571.91,264.57 L572.59,264.84 L573.11,265.1 L573.49,265.37 L573.72,265.63 L573.8,265.9 L573.72,266.16 L573.49,266.43 L573.11,266.69 L572.59,266.96 L571.91,267.22 L571.1,267.49 L570.15,267.75 L569.06,268.02 L567.86,268.28 L566.54,268.55 L565.11,268.81 L563.58,269.08 L561.96,269.34 L560.26,269.61 L558.49,269.88 L556.66,270.14 L554.79,270.4 L552.88,270.67 L550.95,270.94 L549,271.2 L547.05,271.46 L545.12,271.73 L543.21,272 L541.34,272.26 L539.51,272.52 L537.74,272.79 L536.04,273.06 L534.42,273.32 L532.89,273.58 L531.46,273.85 L530.14,274.12 L528.94,274.38 L527.85,274.64 L526.9,274.91 L526.09,275.18 L525.41,275.44 L524.89,275.7 L524.51,275.97 L524.28,276.24 L524.2,276.5 L524.28,276.76 L524.51,277.03 L524.89,277.3 L525.41,277.56 L526.09,277.82 L526.9,278.09 L527.85,278.36 L528.94,278.62 L530.14,278.88 L531.46,279.15 L532.89,279.42 L534.42,279.68 L536.04,279.94 L537.74,280.21 L539.51,280.48 L541.34,280.74 L543.21,281 L545.12,281.27 L547.05,281.54 L549,281.8 L550.95,282.06 L552.88,282.33 L554.79,282.6 L556.66,282.86 L558.49,283.12 L560.26,283.39 L561.96,283.66 L563.58,283.92 L565.11,284.19 L566.54,284.45 L567.86,284.72 L569.06,284.98 L570.15,285.25 L571.1,285.51 L571.91,285.78 L572.59,286.04 L573.11,286.31 L573.49,286.57 L573.72,286.84 L573.8,287.1 L573.72,287.37 L573.49,287.63 L573.11,287.9 L572.59,288.16 L571.91,288.43 L571.1,288.69 L570.15,288.96 L569.06,289.22 L567.86,289.49 L566.54,289.75 L565.11,290.01 L563.58,290.28 L561.96,290.55 L560.26,290.81 L558.49,291.07 L556.66,291.34 L554.79,291.61 L552.88,291.87 L550.95,292.13 L549,292.4 L547.05,292.67 L545.12,292.93 L543.21,293.19 L541.34,293.46 L539.51,293.73 L537.74,293.99 L536.04,294.25 L534.42,294.52 L532.89,294.79 L531.46,295.05 L530.14,295.31 L528.94,295.58 L527.85,295.84 L526.9,296.11 L526.09,296.38 L525.41,296.64 L524.89,296.9 L524.51,297.17 L524.28,297.44 L524.2,297.7 L524.28,297.96 L524.51,298.23 L524.89,298.5 L525.41,298.76 L526.09,299.02 L526.9,299.29 L527.85,299.56 L528.94,299.82 L530.14,300.08 L531.46,300.35 L532.89,300.62 L534.42,300.88 L536.04,301.14 L537.74,301.41 L539.51,301.68 L541.34,301.94 L543.21,302.2 L545.12,302.47 L547.05,302.74 L549,303 L550.95,303.26 L552.88,303.53 L554.79,303.8 L556.66,304.06 L558.49,304.32 L560.26,304.59 L561.96,304.86 L563.58,305.12 L565.11,305.38 L566.54,305.65 L567.86,305.92 L569.06,306.18 L570.15,306.44 L571.1,306.71 L571.91,306.98 L572.59,307.24 L573.11,307.5 L573.49,307.77 L573.72,308.04 L573.8,308.3 L573.72,308.56 L573.49,308.83 L573.11,309.1 L572.59,309.36 L571.91,309.62 L571.1,309.89 L570.15,310.16 L569.06,310.42 L567.86,310.69 L566.54,310.95 L565.11,311.21 L563.58,311.48 L561.96,311.75 L560.26,312.01 L558.49,312.27 L556.66,312.54 L554.79,312.81 L552.88,313.07 L550.95,313.33 L549,313.6 L547.05,313.87 L545.12,314.13 L543.21,314.39 L541.34,314.66 L539.51,314.93 L537.74,315.19 L536.04,315.45 L534.42,315.72 L532.89,315.99 L531.46,316.25 L530.14,316.51 L528.94,316.78 L527.85,317.04 L526.9,317.31 L526.09,317.57 L525.41,317.84 L524.89,318.1 L524.51,318.37 L524.28,318.63 L524.2,318.9 L524.28,319.16 L524.51,319.43 L524.89,319.69 L525.41,319.96 L526.09,320.22 L526.9,320.49 L527.85,320.75 L528.94,321.02 L530.14,321.28 L531.46,321.55 L532.89,321.81 L534.42,322.08 L536.04,322.34 L537.74,322.61 L539.51,322.88 L541.34,323.14 L543.21,323.4 L545.12,323.67 L547.05,323.94 L549,324.2 L550.95,324.46 L552.88,324.73 L554.79,325 L556.66,325.26 L558.49,325.52 L560.26,325.79 L561.96,326.06 L563.58,326.32 L565.11,326.58 L566.54,326.85 L567.86,327.12 L569.06,327.38 L570.15,327.64 L571.1,327.91 L571.91,328.18 L572.59,328.44 L573.11,328.7 L573.49,328.97 L573.72,329.24 L573.8,329.5 L573.72,329.75 L573.49,330 L573.11,330.25 L572.59,330.5 L571.91,330.75 L571.1,331 L570.15,331.25 L569.06,331.5 L567.86,331.75 L566.54,332 L565.11,332.25 L563.58,332.5 L561.96,332.75 L560.26,333 L558.49,333.25 L556.66,333.5 L554.79,333.75 L552.88,334 L550.95,334.25 L549,334.5 L547.05,334.75 L545.12,335 L543.21,335.25 L541.34,335.5 L539.51,335.75 L537.74,336 L536.04,336.25 L534.42,336.5 L532.89,336.75 L531.46,337 L530.14,337.25 L528.94,337.5 L527.85,337.75 L526.9,338 L526.09,338.25 L525.41,338.5 L524.89,338.75 L524.51,339 L524.28,339.25 L524.2,339.5 L524.28,339.62 L524.51,339.75 L524.89,339.88 L525.41,340 L526.09,340.12 L526.9,340.25 L527.85,340.38 L528.94,340.5 L530.14,340.62 L531.46,340.75 L532.89,340.88 L534.42,341 L536.04,341.12 L537.74,341.25 L539.51,341.38 L541.34,341.5 L543.21,341.62 L545.12,341.75 L547.05,341.88 L549,342 L550.95,342.12 L552.88,342.25 L554.79,342.38 L556.66,342.5 L558.49,342.62 L560.26,342.75 L561.96,342.88 L563.58,343 L565.11,343.12 L566.54,343.25 L567.86,343.38 L569.06,343.5 L570.15,343.62 L571.1,343.75 L571.91,343.88 L572.59,344 L573.11,344.12 L573.49,344.25 L573.72,344.38 L573.8,344.5 L573.72,344.62 L573.49,344.75 L573.11,344.88 L572.59,345 L571.91,345.12 L571.1,345.25 L570.15,345.38 L569.06,345.5 L567.86,345.62 L566.54,345.75 L565.11,345.88 L563.58,346 L561.96,346.12 L560.26,346.25 L558.49,346.38 L556.66,346.5 L554.79,346.62 L552.88,346.75 L550.95,346.88 L549,347 L547.05,347.12 L545.12,347.25 L543.21,347.38 L541.34,347.5 L539.51,347.62 L537.74,347.75 L536.04,347.88 L534.42,348 L532.89,348.12 L531.46,348.25 L530.14,348.38 L528.94,348.5 L527.85,348.62 L526.9,348.75 L526.09,348.88 L525.41,349 L524.89,349.12 L524.51,349.25 L524.28,349.38 L524.2,349.5" fill="none" stroke="#000" stroke-width="7.4" stroke-linecap="round" stroke-linejoin="round"/>
<path d="M573.8,238 L573.72,238.01 L573.49,238.03 L573.11,238.04 L572.59,238.05 L571.91,238.06 L571.1,238.07 L570.15,238.09 L569.06,238.1 L567.86,238.11 L566.54,238.12 L565.11,238.14 L563.58,238.15 L561.96,238.16 L560.26,238.18 L558.49,238.19 L556.66,238.2 L554.79,238.21 L552.88,238.22 L550.95,238.24 L549,238.25 L547.05,238.26 L545.12,238.28 L543.21,238.29 L541.34,238.3 L539.51,238.31 L537.74,238.32 L536.04,238.34 L534.42,238.35 L532.89,238.36 L531.46,238.38 L530.14,238.39 L528.94,238.4 L527.85,238.41 L526.9,238.43 L526.09,238.44 L525.41,238.45 L524.89,238.46 L524.51,238.47 L524.28,238.49 L524.2,238.5 L524.28,238.65 L524.51,238.8 L524.89,238.95 L525.41,239.1 L526.09,239.25 L526.9,239.4 L527.85,239.55 L528.94,239.7 L530.14,239.85 L531.46,240 L532.89,240.15 L534.42,240.3 L536.04,240.45 L537.74,240.6 L539.51,240.75 L541.34,240.9 L543.21,241.05 L545.12,241.2 L547.05,241.35 L549,241.5 L550.95,241.65 L552.88,241.8 L554.79,241.95 L556.66,242.1 L558.49,242.25 L560.26,242.4 L561.96,242.55 L563.58,242.7 L565.11,242.85 L566.54,243 L567.86,243.15 L569.06,243.3 L570.15,243.45 L571.1,243.6 L571.91,243.75 L572.59,243.9 L573.11,244.05 L573.49,244.2 L573.72,244.35 L573.8,244.5 L573.72,244.77 L573.49,245.04 L573.11,245.31 L572.59,245.58 L571.91,245.85 L571.1,246.12 L570.15,246.39 L569.06,246.66 L567.86,246.93 L566.54,247.2 L565.11,247.47 L563.58,247.74 L561.96,248.01 L560.26,248.28 L558.49,248.55 L556.66,248.82 L554.79,249.09 L552.88,249.36 L550.95,249.63 L549,249.9 L547.05,250.17 L545.12,250.44 L543.21,250.71 L541.34,250.98 L539.51,251.25 L537.74,251.52 L536.04,251.79 L534.42,252.06 L532.89,252.33 L531.46,252.6 L530.14,252.87 L528.94,253.14 L527.85,253.41 L526.9,253.68 L526.09,253.95 L525.41,254.22 L524.89,254.49 L524.51,254.76 L524.28,255.03 L524.2,255.3 L524.28,255.56 L524.51,255.83 L524.89,256.1 L525.41,256.36 L526.09,256.62 L526.9,256.89 L527.85,257.16 L528.94,257.42 L530.14,257.69 L531.46,257.95 L532.89,258.21 L534.42,258.48 L536.04,258.75 L537.74,259.01 L539.51,259.27 L541.34,259.54 L543.21,259.81 L545.12,260.07 L547.05,260.33 L549,260.6 L550.95,260.87 L552.88,261.13 L554.79,261.39 L556.66,261.66 L558.49,261.93 L560.26,262.19 L561.96,262.45 L563.58,262.72 L565.11,262.99 L566.54,263.25 L567.86,263.51 L569.06,263.78 L570.15,264.04 L571.1,264.31 L571.91,264.57 L572.59,264.84 L573.11,265.1 L573.49,265.37 L573.72,265.63 L573.8,265.9 L573.72,266.16 L573.49,266.43 L573.11,266.69 L572.59,266.96 L571.91,267.22 L571.1,267.49 L570.15,267.75 L569.06,268.02 L567.86,268.28 L566.54,268.55 L565.11,268.81 L563.58,269.08 L561.96,269.34 L560.26,269.61 L558.49,269.88 L556.66,270.14 L554.79,270.4 L552.88,270.67 L550.95,270.94 L549,271.2 L547.05,271.46 L545.12,271.73 L543.21,272 L541.34,272.26 L539.51,272.52 L537.74,272.79 L536.04,273.06 L534.42,273.32 L532.89,273.58 L531.46,273.85 L530.14,274.12 L528.94,274.38 L527.85,274.64 L526.9,274.91 L526.09,275.18 L525.41,275.44 L524.89,275.7 L524.51,275.97 L524.28,276.24 L524.2,276.5 L524.28,276.76 L524.51,277.03 L524.89,277.3 L525.41,277.56 L526.09,277.82 L526.9,278.09 L527.85,278.36 L528.94,278.62 L530.14,278.88 L531.46,279.15 L532.89,279.42 L534.42,279.68 L536.04,279.94 L537.74,280.21 L539.51,280.48 L541.34,280.74 L543.21,281 L545.12,281.27 L547.05,281.54 L549,281.8 L550.95,282.06 L552.88,282.33 L554.79,282.6 L556.66,282.86 L558.49,283.12 L560.26,283.39 L561.96,283.66 L563.58,283.92 L565.11,284.19 L566.54,284.45 L567.86,284.72 L569.06,284.98 L570.15,285.25 L571.1,285.51 L571.91,285.78 L572.59,286.04 L573.11,286.31 L573.49,286.57 L573.72,286.84 L573.8,287.1 L573.72,287.37 L573.49,287.63 L573.11,287.9 L572.59,288.16 L571.91,288.43 L571.1,288.69 L570.15,288.96 L569.06,289.22 L567.86,289.49 L566.54,289.75 L565.11,290.01 L563.58,290.28 L561.96,290.55 L560.26,290.81 L558.49,291.07 L556.66,291.34 L554.79,291.61 L552.88,291.87 L550.95,292.13 L549,292.4 L547.05,292.67 L545.12,292.93 L543.21,293.19 L541.34,293.46 L539.51,293.73 L537.74,293.99 L536.04,294.25 L534.42,294.52 L532.89,294.79 L531.46,295.05 L530.14,295.31 L528.94,295.58 L527.85,295.84 L526.9,296.11 L526.09,296.38 L525.41,296.64 L524.89,296.9 L524.51,297.17 L524.28,297.44 L524.2,297.7 L524.28,297.96 L524.51,298.23 L524.89,298.5 L525.41,298.76 L526.09,299.02 L526.9,299.29 L527.85,299.56 L528.94,299.82 L530.14,300.08 L531.46,300.35 L532.89,300.62 L534.42,300.88 L536.04,301.14 L537.74,301.41 L539.51,301.68 L541.34,301.94 L543.21,302.2 L545.12,302.47 L547.05,302.74 L549,303 L550.95,303.26 L552.88,303.53 L554.79,303.8 L556.66,304.06 L558.49,304.32 L560.26,304.59 L561.96,304.86 L563.58,305.12 L565.11,305.38 L566.54,305.65 L567.86,305.92 L569.06,306.18 L570.15,306.44 L571.1,306.71 L571.91,306.98 L572.59,307.24 L573.11,307.5 L573.49,307.77 L573.72,308.04 L573.8,308.3 L573.72,308.56 L573.49,308.83 L573.11,309.1 L572.59,309.36 L571.91,309.62 L571.1,309.89 L570.15,310.16 L569.06,310.42 L567.86,310.69 L566.54,310.95 L565.11,311.21 L563.58,311.48 L561.96,311.75 L560.26,312.01 L558.49,312.27 L556.66,312.54 L554.79,312.81 L552.88,313.07 L550.95,313.33 L549,313.6 L547.05,313.87 L545.12,314.13 L543.21,314.39 L541.34,314.66 L539.51,314.93 L537.74,315.19 L536.04,315.45 L534.42,315.72 L532.89,315.99 L531.46,316.25 L530.14,316.51 L528.94,316.78 L527.85,317.04 L526.9,317.31 L526.09,317.57 L525.41,317.84 L524.89,318.1 L524.51,318.37 L524.28,318.63 L524.2,318.9 L524.28,319.16 L524.51,319.43 L524.89,319.69 L525.41,319.96 L526.09,320.22 L526.9,320.49 L527.85,320.75 L528.94,321.02 L530.14,321.28 L531.46,321.55 L532.89,321.81 L534.42,322.08 L536.04,322.34 L537.74,322.61 L539.51,322.88 L541.34,323.14 L543.21,323.4 L545.12,323.67 L547.05,323.94 L549,324.2 L550.95,324.46 L552.88,324.73 L554.79,325 L556.66,325.26 L558.49,325.52 L560.26,325.79 L561.96,326.06 L563.58,326.32 L565.11,326.58 L566.54,326.85 L567.86,327.12 L569.06,327.38 L570.15,327.64 L571.1,327.91 L571.91,328.18 L572.59,328.44 L573.11,328.7 L573.49,328.97 L573.72,329.24 L573.8,329.5 L573.72,329.75 L573.49,330 L573.11,330.25 L572.59,330.5 L571.91,330.75 L571.1,331 L570.15,331.25 L569.06,331.5 L567.86,331.75 L566.54,332 L565.11,332.25 L563.58,332.5 L561.96,332.75 L560.26,333 L558.49,333.25 L556.66,333.5 L554.79,333.75 L552.88,334 L550.95,334.25 L549,334.5 L547.05,334.75 L545.12,335 L543.21,335.25 L541.34,335.5 L539.51,335.75 L537.74,336 L536.04,336.25 L534.42,336.5 L532.89,336.75 L531.46,337 L530.14,337.25 L528.94,337.5 L527.85,337.75 L526.9,338 L526.09,338.25 L525.41,338.5 L524.89,338.75 L524.51,339 L524.28,339.25 L524.2,339.5 L524.28,339.62 L524.51,339.75 L524.89,339.88 L525.41,340 L526.09,340.12 L526.9,340.25 L527.85,340.38 L528.94,340.5 L530.14,340.62 L531.46,340.75 L532.89,340.88 L534.42,341 L536.04,341.12 L537.74,341.25 L539.51,341.38 L541.34,341.5 L543.21,341.62 L545.12,341.75 L547.05,341.88 L549,342 L550.95,342.12 L552.88,342.25 L554.79,342.38 L556.66,342.5 L558.49,342.62 L560.26,342.75 L561.96,342.88 L563.58,343 L565.11,343.12 L566.54,343.25 L567.86,343.38 L569.06,343.5 L570.15,343.62 L571.1,343.75 L571.91,343.88 L572.59,344 L573.11,344.12 L573.49,344.25 L573.72,344.38 L573.8,344.5 L573.72,344.62 L573.49,344.75 L573.11,344.88 L572.59,345 L571.91,345.12 L571.1,345.25 L570.15,345.38 L569.06,345.5 L567.86,345.62 L566.54,345.75 L565.11,345.88 L563.58,346 L561.96,346.12 L560.26,346.25 L558.49,346.38 L556.66,346.5 L554.79,346.62 L552.88,346.75 L550.95,346.88 L549,347 L547.05,347.12 L545.12,347.25 L543.21,347.38 L541.34,347.5 L539.51,347.62 L537.74,347.75 L536.04,347.88 L534.42,348 L532.89,348.12 L531.46,348.25 L530.14,348.38 L528.94,348.5 L527.85,348.62 L526.9,348.75 L526.09,348.88 L525.41,349 L524.89,349.12 L524.51,349.25 L524.28,349.38 L524.2,349.5" fill="none" stroke="#fff" stroke-width="4.800000000000001" stroke-linecap="round" stroke-linejoin="round"/>
<path d="M573.47,234.97 L573.37,234.98 L573.03,234.99 L572.52,235 L571.86,235.01 L571.05,235.03 L570.11,235.04 L569.03,235.05 L567.83,235.06 L566.51,235.08 L565.08,235.09 L563.55,235.1 L561.93,235.11 L560.24,235.13 L558.47,235.14 L556.64,235.15 L554.77,235.16 L552.86,235.18 L550.93,235.19 L548.98,235.2 L547.03,235.21 L545.1,235.23 L543.19,235.24 L541.32,235.25 L539.49,235.26 L537.72,235.28 L536.02,235.29 L534.4,235.3 L532.87,235.31 L531.44,235.33 L530.11,235.34 L528.9,235.35 L527.82,235.36 L526.86,235.38 L526.04,235.39 L525.35,235.4 L524.8,235.41 L524.38,235.43 L524.03,235.45 L523.71,235.49" fill="none" stroke="#000" stroke-width="1.3" stroke-linecap="round"/>
<path d="M574.29,241.01 L573.97,241.05 L573.62,241.07 L573.2,241.09 L572.65,241.1 L571.96,241.11 L571.14,241.12 L570.18,241.14 L569.1,241.15 L567.89,241.16 L566.56,241.17 L565.13,241.19 L563.6,241.2 L561.98,241.21 L560.28,241.22 L558.51,241.24 L556.68,241.25 L554.81,241.26 L552.9,241.27 L550.97,241.29 L549.02,241.3 L547.07,241.31 L545.14,241.32 L543.23,241.34 L541.36,241.35 L539.53,241.36 L537.76,241.37 L536.07,241.39 L534.45,241.4 L532.92,241.41 L531.49,241.42 L530.17,241.44 L528.97,241.45 L527.89,241.46 L526.95,241.47 L526.14,241.49 L525.48,241.5 L524.97,241.51 L524.63,241.52 L524.53,241.53" fill="none" stroke="#000" stroke-width="1.3" stroke-linecap="round"/>
<path d="M571.56,242.69 L571.34,242.8 L570.87,242.98 L570.21,243.2 L569.36,243.44 L568.36,243.69 L567.22,243.95 L565.95,244.21 L564.56,244.47 L563.06,244.73 L561.47,245 L559.79,245.27 L558.04,245.53 L556.22,245.8 L554.36,246.07 L552.46,246.34 L550.53,246.61 L548.58,246.88 L546.63,247.15 L544.7,247.42 L542.78,247.69 L540.9,247.96 L539.06,248.23 L537.27,248.51 L535.55,248.78 L533.91,249.05 L532.35,249.33 L530.88,249.61 L529.5,249.89 L528.24,250.17 L527.07,250.46 L526.01,250.76 L525.05,251.08 L524.16,251.44 L523.33,251.87 L522.48,252.48 L521.62,253.53 L521.27,254.47" fill="none" stroke="#000" stroke-width="1.3" stroke-linecap="round"/>
<path d="M576.73,245.33 L576.38,246.27 L575.52,247.32 L574.67,247.93 L573.84,248.36 L572.95,248.72 L571.99,249.04 L570.93,249.34 L569.76,249.63 L568.5,249.91 L567.12,250.19 L565.65,250.47 L564.09,250.75 L562.45,251.02 L560.73,251.29 L558.94,251.57 L557.1,251.84 L555.22,252.11 L553.3,252.38 L551.37,252.65 L549.42,252.92 L547.47,253.19 L545.54,253.46 L543.64,253.73 L541.78,254 L539.96,254.27 L538.21,254.53 L536.53,254.8 L534.94,255.07 L533.44,255.33 L532.05,255.59 L530.78,255.85 L529.64,256.11 L528.64,256.36 L527.79,256.6 L527.13,256.82 L526.66,257 L526.44,257.11" fill="none" stroke="#000" stroke-width="1.3" stroke-linecap="round"/>
<path d="M571.58,264.06 L571.36,264.17 L570.89,264.35 L570.22,264.57 L569.38,264.8 L568.38,265.05 L567.23,265.3 L565.96,265.56 L564.57,265.81 L563.07,266.07 L561.48,266.33 L559.8,266.6 L558.05,266.86 L556.23,267.12 L554.37,267.38 L552.46,267.65 L550.53,267.91 L548.59,268.18 L546.64,268.44 L544.7,268.71 L542.79,268.97 L540.9,269.24 L539.06,269.51 L537.28,269.78 L535.56,270.04 L533.92,270.31 L532.36,270.58 L530.89,270.86 L529.52,271.13 L528.25,271.41 L527.09,271.69 L526.03,271.99 L525.07,272.3 L524.18,272.65 L523.35,273.07 L522.5,273.67 L521.63,274.71 L521.27,275.65" fill="none" stroke="#000" stroke-width="1.3" stroke-linecap="round"/>
<path d="M576.73,266.75 L576.37,267.69 L575.5,268.73 L574.65,269.33 L573.82,269.75 L572.93,270.1 L571.97,270.41 L570.91,270.71 L569.75,270.99 L568.48,271.27 L567.11,271.54 L565.64,271.82 L564.08,272.09 L562.44,272.36 L560.72,272.62 L558.94,272.89 L557.1,273.16 L555.21,273.43 L553.3,273.69 L551.36,273.96 L549.41,274.22 L547.47,274.49 L545.54,274.75 L543.63,275.02 L541.77,275.28 L539.95,275.54 L538.2,275.8 L536.52,276.07 L534.93,276.33 L533.43,276.59 L532.04,276.84 L530.77,277.1 L529.62,277.35 L528.62,277.6 L527.78,277.83 L527.11,278.05 L526.64,278.23 L526.42,278.34" fill="none" stroke="#000" stroke-width="1.3" stroke-linecap="round"/>
<path d="M571.58,285.26 L571.36,285.37 L570.89,285.55 L570.22,285.77 L569.38,286 L568.38,286.25 L567.23,286.5 L565.96,286.76 L564.57,287.01 L563.07,287.27 L561.48,287.53 L559.8,287.8 L558.05,288.06 L556.23,288.32 L554.37,288.58 L552.46,288.85 L550.53,289.11 L548.59,289.38 L546.64,289.64 L544.7,289.91 L542.79,290.17 L540.9,290.44 L539.06,290.71 L537.28,290.98 L535.56,291.24 L533.92,291.51 L532.36,291.78 L530.89,292.06 L529.52,292.33 L528.25,292.61 L527.09,292.89 L526.03,293.19 L525.07,293.5 L524.18,293.85 L523.35,294.27 L522.5,294.87 L521.63,295.91 L521.27,296.85" fill="none" stroke="#000" stroke-width="1.3" stroke-linecap="round"/>
<path d="M576.73,287.95 L576.37,288.89 L575.5,289.93 L574.65,290.53 L573.82,290.95 L572.93,291.3 L571.97,291.61 L570.91,291.91 L569.75,292.19 L568.48,292.47 L567.11,292.74 L565.64,293.02 L564.08,293.29 L562.44,293.56 L560.72,293.82 L558.94,294.09 L557.1,294.36 L555.21,294.63 L553.3,294.89 L551.36,295.16 L549.41,295.42 L547.47,295.69 L545.54,295.95 L543.63,296.22 L541.77,296.48 L539.95,296.74 L538.2,297 L536.52,297.27 L534.93,297.53 L533.43,297.79 L532.04,298.04 L530.77,298.3 L529.62,298.55 L528.62,298.8 L527.78,299.03 L527.11,299.25 L526.64,299.43 L526.42,299.54" fill="none" stroke="#000" stroke-width="1.3" stroke-linecap="round"/>
<path d="M571.58,306.46 L571.36,306.57 L570.89,306.75 L570.22,306.97 L569.38,307.2 L568.38,307.45 L567.23,307.7 L565.96,307.96 L564.57,308.21 L563.07,308.47 L561.48,308.73 L559.8,309 L558.05,309.26 L556.23,309.52 L554.37,309.78 L552.46,310.05 L550.53,310.31 L548.59,310.58 L546.64,310.84 L544.7,311.11 L542.79,311.37 L540.9,311.64 L539.06,311.91 L537.28,312.18 L535.56,312.44 L533.92,312.71 L532.36,312.98 L530.89,313.26 L529.52,313.53 L528.25,313.81 L527.09,314.09 L526.03,314.39 L525.07,314.7 L524.18,315.05 L523.35,315.47 L522.5,316.07 L521.63,317.11 L521.27,318.05" fill="none" stroke="#000" stroke-width="1.3" stroke-linecap="round"/>
<path d="M576.73,309.15 L576.37,310.09 L575.5,311.13 L574.65,311.73 L573.82,312.15 L572.93,312.5 L571.97,312.81 L570.91,313.11 L569.75,313.39 L568.48,313.67 L567.11,313.94 L565.64,314.22 L564.08,314.49 L562.44,314.76 L560.72,315.02 L558.94,315.29 L557.1,315.56 L555.21,315.83 L553.3,316.09 L551.36,316.36 L549.41,316.62 L547.47,316.89 L545.54,317.15 L543.63,317.42 L541.77,317.68 L539.95,317.94 L538.2,318.2 L536.52,318.47 L534.93,318.73 L533.43,318.99 L532.04,319.24 L530.77,319.5 L529.62,319.75 L528.62,320 L527.78,320.23 L527.11,320.45 L526.64,320.63 L526.42,320.74" fill="none" stroke="#000" stroke-width="1.3" stroke-linecap="round"/>
<path d="M571.64,327.58 L571.42,327.68 L570.94,327.86 L570.27,328.07 L569.42,328.29 L568.41,328.52 L567.27,328.76 L565.99,329 L564.6,329.24 L563.1,329.49 L561.5,329.73 L559.82,329.98 L558.07,330.23 L556.26,330.48 L554.39,330.73 L552.49,330.98 L550.56,331.23 L548.61,331.47 L546.66,331.73 L544.73,331.98 L542.81,332.23 L540.93,332.48 L539.09,332.73 L537.31,332.98 L535.59,333.23 L533.94,333.49 L532.39,333.74 L530.92,334 L529.55,334.26 L528.29,334.52 L527.13,334.79 L526.07,335.07 L525.12,335.36 L524.24,335.68 L523.41,336.08 L522.57,336.64 L521.67,337.66 L521.28,338.61" fill="none" stroke="#000" stroke-width="1.3" stroke-linecap="round"/>
<path d="M576.72,330.39 L576.33,331.34 L575.43,332.36 L574.59,332.92 L573.76,333.32 L572.88,333.64 L571.93,333.93 L570.87,334.21 L569.71,334.48 L568.45,334.74 L567.08,335 L565.61,335.26 L564.06,335.51 L562.41,335.77 L560.69,336.02 L558.91,336.27 L557.07,336.52 L555.19,336.77 L553.27,337.02 L551.34,337.27 L549.39,337.53 L547.44,337.77 L545.51,338.02 L543.61,338.27 L541.74,338.52 L539.93,338.77 L538.18,339.02 L536.5,339.27 L534.9,339.51 L533.4,339.76 L532.01,340 L530.73,340.24 L529.59,340.48 L528.58,340.71 L527.73,340.93 L527.06,341.14 L526.58,341.32 L526.36,341.42" fill="none" stroke="#000" stroke-width="1.3" stroke-linecap="round"/>
<path d="M572.34,341.93 L572.31,341.93 L571.97,342.01 L571.41,342.12 L570.67,342.23 L569.77,342.35 L568.73,342.47 L567.56,342.59 L566.26,342.71 L564.85,342.84 L563.34,342.96 L561.73,343.08 L560.04,343.21 L558.28,343.33 L556.46,343.46 L554.59,343.58 L552.68,343.71 L550.75,343.83 L548.8,343.96 L546.86,344.08 L544.92,344.21 L543.01,344.33 L541.13,344.46 L539.3,344.58 L537.52,344.71 L535.81,344.83 L534.18,344.96 L532.64,345.09 L531.19,345.21 L529.84,345.34 L528.61,345.47 L527.48,345.6 L526.48,345.73 L525.58,345.87 L524.79,346.01 L524.08,346.18 L523.35,346.43 L522.34,347.02 L521.6,347.91" fill="none" stroke="#000" stroke-width="1.3" stroke-linecap="round"/>
<path d="M576.4,346.09 L575.66,346.98 L574.65,347.57 L573.92,347.82 L573.21,347.99 L572.42,348.13 L571.52,348.27 L570.52,348.4 L569.39,348.53 L568.16,348.66 L566.81,348.79 L565.36,348.91 L563.82,349.04 L562.19,349.17 L560.48,349.29 L558.7,349.42 L556.87,349.54 L554.99,349.67 L553.08,349.79 L551.14,349.92 L549.2,350.04 L547.25,350.17 L545.32,350.29 L543.41,350.42 L541.54,350.54 L539.72,350.67 L537.96,350.79 L536.27,350.92 L534.66,351.04 L533.15,351.16 L531.74,351.29 L530.44,351.41 L529.27,351.53 L528.23,351.65 L527.33,351.77 L526.59,351.88 L526.03,351.99 L525.69,352.07 L525.66,352.07" fill="none" stroke="#000" stroke-width="1.3" stroke-linecap="round"/>
<rect x="522" y="228" width="44" height="6" rx="0" fill="#fff" stroke="#000" stroke-width="1.3"/>
<line x1="534" y1="231" x2="566" y2="231" stroke="#888" stroke-width="1.0"/>
<ellipse cx="531.5" cy="231" rx="2" ry="3.2" fill="#fff" stroke="#000" stroke-width="1.2"/>
<rect x="532" y="354.2" width="43" height="4.2" rx="0" fill="#fff" stroke="#000" stroke-width="1.3"/>
<line x1="535" y1="356.3" x2="562" y2="356.3" stroke="#888" stroke-width="1.2"/>
<ellipse cx="566.4" cy="356.4" rx="2.2" ry="3.2" fill="#fff" stroke="#000" stroke-width="1.2"/>
<rect x="516.3" y="354.8" width="16.9" height="6.8" rx="0" fill="#fff" stroke="#000" stroke-width="1.3"/>
<rect x="501.6" y="192.5" width="95.1" height="5.8" rx="1.5" fill="#fff" stroke="#000" stroke-width="1.6"/>
<path d="M589.4,192 C589,175 590,160 596,146 C604,128 620,110 643.7,97.5 C646,95 648,91.5 652,91.5 C657,91.5 660.5,95 660.5,101 C660.5,106 662,110 664.3,113.3 L691,156 C697,166 697,180 690,189 C684,196 676,199 668,199 C660,198 656,192 650,189.5 C642,186.5 635,190 633.5,196 C632,203 634,214 640,225 C643,230 647,236 652,240.5 C658,246 665.3,251 665.3,260 C665.3,268 659,273.3 651,273.3 C645,273.3 640,272 633.5,268.9 C625,263 616,252 609,242 C606,237.5 603.5,233 599,230 L592.2,226.7" fill="none" stroke="#000" stroke-width="1.5" />
<circle cx="638.4" cy="118" r="8.2" fill="none" stroke="#000" stroke-width="2.6"/>
<circle cx="638.4" cy="118" r="4.8" fill="none" stroke="#000" stroke-width="1.5"/>
<circle cx="657.9" cy="147.2" r="4.6" fill="none" stroke="#000" stroke-width="1.4"/>
<circle cx="652.5" cy="260.2" r="8" fill="none" stroke="#000" stroke-width="2.6"/>
<circle cx="652.5" cy="260.2" r="4.4" fill="none" stroke="#000" stroke-width="1.5"/>
<path d="M502,199 L596,199 A13.6,13.75 0 0,1 596,226.5 L502,226.5 A13.6,13.75 0 0,1 502,199 Z" fill="#fff" stroke="#000" stroke-width="1.6" />
<path d="M508.5,226.8 L508.5,203.5 Q508.5,198.8 513,198.8 L585.5,198.8 Q590,198.8 590,203.5 L590,226.8 Z" fill="#fff" stroke="#000" stroke-width="1.5" />
<path d="M509.3,216 C510.5,208 515,200.6 524,200.4 L572,200.4 C581,200.6 587.5,208 589,216" fill="none" stroke="#000" stroke-width="1.4" />
<circle cx="500.5" cy="212.4" r="5.05" fill="none" stroke="#000" stroke-width="2.5"/>
<circle cx="597.5" cy="212.4" r="5.05" fill="none" stroke="#000" stroke-width="2.5"/>
<circle cx="518.9" cy="214.6" r="6.3" fill="none" stroke="#000" stroke-width="1.4"/>
<circle cx="579.6" cy="214.6" r="5.05" fill="none" stroke="#000" stroke-width="2.5"/>
<line x1="509" y1="362" x2="589.5" y2="362" stroke="#000" stroke-width="2.6"/>
<path d="M520,363 L532,363 L532,366 L530.5,367.5 L527,367.5 L526,366 L524.5,366 L523.5,367.5 L520.5,367.5 L520,366 Z" fill="#000"/>
<path d="M567,363 L579,363 L579,366 L578.5,367.5 L575,367.5 L574,366 L572.5,366 L571.5,367.5 L568,367.5 L567,366 Z" fill="#000"/>
<line x1="511.2" y1="362" x2="508.6" y2="486" stroke="#000" stroke-width="2.4"/>
<line x1="518" y1="365" x2="516.1" y2="486" stroke="#000" stroke-width="1.3"/>
<line x1="543.9" y1="363" x2="543.9" y2="486" stroke="#000" stroke-width="1.3"/>
<line x1="554.7" y1="363" x2="554.7" y2="486" stroke="#000" stroke-width="1.3"/>
<line x1="580.5" y1="365" x2="583.3" y2="486" stroke="#000" stroke-width="1.3"/>
<line x1="587.3" y1="362" x2="590" y2="486" stroke="#000" stroke-width="2.4"/>
<line x1="496.3" y1="487.2" x2="602.3" y2="487.2" stroke="#000" stroke-width="2.6"/>
<path d="M502.3,486 L502.3,484 L503.8,482.5 L507.8,482.5 L509.3,484 L509.3,486 Z" fill="#000"/>
<path d="M545.8,486 L545.8,484 L547.3,482.5 L551.3,482.5 L552.8,484 L552.8,486 Z" fill="#000"/>
<path d="M587.9,486 L587.9,484 L589.4,482.5 L593.4,482.5 L594.9,484 L594.9,486 Z" fill="#000"/>
</svg></body></html>
